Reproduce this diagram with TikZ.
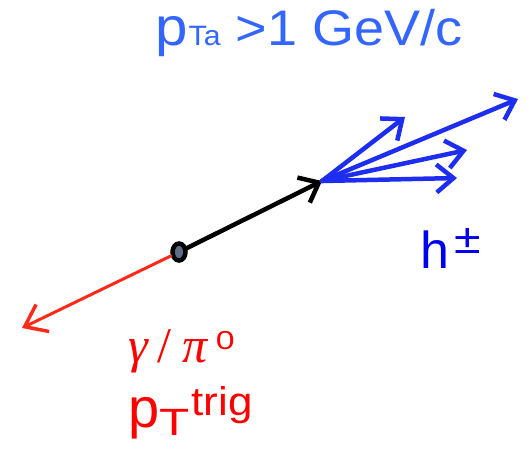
\documentclass[tikz,border=0pt]{standalone}
\usepackage{fontspec}
\setmainfont{Liberation Sans}
\newfontfamily\greekfont{Liberation Serif}
\usetikzlibrary{arrows.meta,shapes.geometric}
\definecolor{toptext}{HTML}{3366FF}
\definecolor{jetblue}{HTML}{1E2EF0}
\definecolor{hblue}{HTML}{0000F0}
\definecolor{trigred}{HTML}{FF0000}
\definecolor{arrred}{HTML}{FF2A1A}
\definecolor{dotfill}{HTML}{5E6E86}
\tikzset{
  handarrow/.style={line width=4.5pt, line cap=round, -{Straight Barb[length=17pt,width=28pt,line width=4.5pt]}},
  lbl/.style={inner sep=0pt, anchor=base west},
}
\begin{document}
\begin{tikzpicture}[x=1pt,y=-1pt]
\useasboundingbox (0,0) rectangle (529,455);
% vertex
\node[ellipse, draw=black, line width=4.5pt, fill=dotfill, minimum width=13pt, minimum height=17pt, inner sep=0pt] (v) at (179,252) {};
\coordinate (redtip) at (22,328);
\coordinate (jet) at (322,181);
\coordinate (b1) at (518,99);
\coordinate (b2) at (405,117);
\coordinate (b3) at (467,150);
\coordinate (b4) at (457,178);
% arrows
\draw[color=arrred, line width=3pt, line cap=round, -{Straight Barb[length=20pt,width=30pt,line width=3.5pt]}] (v) -- (redtip);
\draw[handarrow, color=black] (v) -- (jet);
\foreach \t in {b1,b2,b3,b4}
  \draw[handarrow, color=jetblue] (jet) -- (\t);
% labels
\node[lbl, text=toptext] (top) at (155,45) {\scalebox{1.08}[1]{\fontsize{54}{54}\selectfont p\hspace{1pt}\fontsize{28}{28}\selectfont Ta\fontsize{50}{50}\selectfont\ {>}1 GeV/c}};
\node[lbl, text=hblue] (h) at (420,268) {\fontsize{52}{52}\selectfont h\hspace{5pt}\raisebox{15pt}{\scalebox{1.15}[1]{\fontsize{42}{42}\selectfont ±}}};
\node[lbl, text=trigred] (g) at (128,362) {\fontsize{50}{50}\selectfont\greekfont\itshape γ\hspace{10pt}\upshape/\hspace{11pt}\itshape π\hspace{8pt}\raisebox{13pt}{\scalebox{1.3}[1]{\normalfont\fontsize{26}{26}\selectfont 0}}};
\node[lbl, text=trigred] (pt) at (128,427) {\fontsize{56}{56}\selectfont p\raisebox{-8pt}{\scalebox{1.3}[1]{\fontsize{38}{38}\selectfont T}}\hspace{2pt}\raisebox{12pt}{\scalebox{1.1}[1]{\fontsize{40}{40}\selectfont trig}}};
\end{tikzpicture}
\end{document}
